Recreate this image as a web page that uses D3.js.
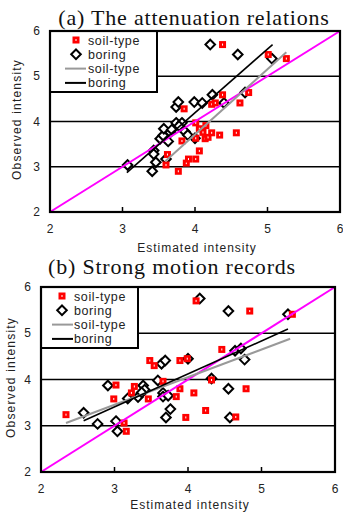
<!DOCTYPE html>
<html>
<head>
<meta charset="utf-8">
<script src="https://cdn.jsdelivr.net/npm/d3@7"></script>
<style>
body { margin: 0; background: #fff; }
svg text { font-family: "Liberation Sans", Arial, sans-serif; fill: #222; }
text.title { font-family: "Liberation Serif", "Times New Roman", serif; fill: #111; }
</style>
</head>
<body>
<svg class="main" width="343" height="512"></svg>
<script>
// ---- data ----
var xTicks = [2, 3, 4, 5, 6];
var yTicks = [2, 3, 4, 5, 6];
var gridVals = [3, 4, 5];
var legendLabels = ["soil-type", "boring", "soil-type", "boring"];
var titles = ["(a) The attenuation relations", "(b) Strong motion records"];

// (a) attenuation relations
var aSoil = [[3.60,3.04],[3.62,3.27],[3.77,2.90],[3.88,3.08],[3.91,3.17],[4.01,3.17],[4.06,3.35],
  [3.82,3.57],[4.01,3.63],[4.14,3.62],[4.18,3.65],[4.06,3.84],[4.11,3.76],[4.23,3.75],[4.34,3.70],
  [4.57,3.75],[4.01,3.97],[4.15,3.91],[3.85,4.28],[4.23,4.38],[4.28,4.41],[4.38,4.59],[4.62,4.41],
  [4.74,4.64],[4.38,5.70],[5.01,5.48],[5.26,5.39]];
var aBoring = [[3.07,3.04],[3.41,2.90],[3.43,3.36],[3.43,3.28],[3.46,3.10],[3.60,3.17],[3.52,3.62],
  [3.56,3.69],[3.63,3.56],[3.57,3.84],[3.66,3.76],[3.68,3.82],[3.74,3.97],[3.82,3.97],[3.78,3.90],
  [3.86,3.78],[3.90,3.70],[4.00,3.63],[3.74,4.32],[3.77,4.43],[3.99,4.43],[4.10,4.41],[4.24,4.59],
  [4.40,4.41],[4.69,4.64],[4.21,5.70],[4.59,5.48],[5.06,5.39]];
var aSoilFit = [[3.59,3.12],[5.26,5.53]];
var aBoringFit = [[3.06,2.87],[5.07,5.70]];

// (b) strong motion records
var bSoil = [[2.34,3.24],[3.02,3.88],[3.27,3.85],[3.23,3.71],[2.99,3.58],[3.13,3.06],[3.16,2.88],
  [3.46,3.58],[3.66,3.96],[3.84,3.63],[3.89,3.80],[3.97,3.18],[3.48,4.41],[3.54,4.30],[3.89,4.41],
  [3.99,4.45],[4.11,5.70],[4.84,5.48],[5.42,5.41],[4.46,4.65],[4.08,3.71],[4.79,3.80],[4.24,3.33],
  [4.65,3.19],[4.32,3.99]];
var bBoring = [[2.91,3.87],[2.58,3.28],[2.77,3.04],[3.02,3.10],[3.04,2.88],[3.18,3.59],[3.32,3.62],
  [3.39,3.87],[3.41,3.78],[3.37,3.72],[3.59,3.98],[3.66,3.71],[3.66,3.63],[3.73,3.65],[3.76,3.36],
  [3.70,3.18],[3.64,4.34],[3.69,4.41],[4.00,4.45],[4.16,5.75],[4.55,5.48],[5.36,5.41],[4.64,4.62],
  [4.72,4.67],[4.77,4.43],[4.32,4.02],[4.55,3.80],[4.57,3.18]];
var bSoilFit = [[2.34,3.06],[5.39,4.88]];
var bBoringFit = [[2.58,3.11],[5.36,5.09]];

// ---- layout ----
var panels = [
  { left: 50, right: 340, top: 31, bottom: 212, title: titles[0], tx: 194, ty: 25,
    soil: aSoil, boring: aBoring, soilFit: aSoilFit, boringFit: aBoringFit,
    lw: 107, lsym: 26, lx0: 15, lx1: 36, ltx: 38, ylx: 21, ytx: 40, xly: 40 },
  { left: 41, right: 335, top: 287, bottom: 472, title: titles[1], tx: 172, ty: 274,
    soil: bSoil, boring: bBoring, soilFit: bSoilFit, boringFit: bBoringFit,
    lw: 97, lsym: 21, lx0: 11, lx1: 32, ltx: 33, ylx: 15, ytx: 31, xly: 37 }
];

var svg = d3.select("svg.main");

function drawSoil(g, x, y) {
  g.append("rect").attr("x", x - 3.5).attr("y", y - 3.5)
    .attr("width", 7).attr("height", 7).attr("fill", "#ff0000");
  g.append("rect").attr("x", x - 0.5).attr("y", y - 1)
    .attr("width", 1).attr("height", 2).attr("fill", "#fff");
}

function drawDiamond(g, x, y) {
  var r = 4.8;
  g.append("path")
    .attr("d", "M" + x + "," + (y - r) + "L" + (x + r) + "," + y + "L" + x + "," + (y + r) + "L" + (x - r) + "," + y + "Z")
    .attr("fill", "#fff").attr("stroke", "#000").attr("stroke-width", 2);
}

function drawPanel(p) {
  var x = d3.scaleLinear().domain([2, 6]).range([p.left, p.right]);
  var y = d3.scaleLinear().domain([2, 6]).range([p.bottom, p.top]);
  var g = svg.append("g");

  g.append("text").attr("class", "title")
    .attr("x", p.tx).attr("y", p.ty)
    .attr("text-anchor", "middle").attr("font-size", 22)
    .attr("letter-spacing", 0.8)
    .text(p.title);

  // grid lines
  g.selectAll("line.grid").data(gridVals).enter().append("line")
    .attr("class", "grid")
    .attr("x1", p.left).attr("x2", p.right)
    .attr("y1", function (d) { return y(d); })
    .attr("y2", function (d) { return y(d); })
    .attr("stroke", "#000").attr("stroke-width", 1.6);

  // inner ticks on x
  g.selectAll("line.xt").data(xTicks.slice(1, 4)).enter().append("line")
    .attr("x1", function (d) { return x(d); })
    .attr("x2", function (d) { return x(d); })
    .attr("y1", p.bottom).attr("y2", p.bottom - 5)
    .attr("stroke", "#000").attr("stroke-width", 1.5);

  // tick labels
  g.selectAll("text.xl").data(xTicks).enter().append("text")
    .attr("x", function (d) { return x(d); })
    .attr("y", p.bottom + 21)
    .attr("text-anchor", "middle").attr("font-size", 12)
    .text(function (d) { return d; });
  g.selectAll("text.yl").data(yTicks).enter().append("text")
    .attr("x", p.ytx)
    .attr("y", function (d) { return y(d) + 4; })
    .attr("text-anchor", "end").attr("font-size", 12)
    .text(function (d) { return d; });

  g.append("text")
    .attr("x", (p.left + p.right) / 2 + 2).attr("y", p.bottom + p.xly)
    .attr("text-anchor", "middle").attr("font-size", 12)
    .attr("letter-spacing", 1)
    .text("Estimated intensity");
  g.append("text")
    .attr("transform", "translate(" + p.ylx + "," + ((p.top + p.bottom) / 2 - 2) + ") rotate(-90)")
    .attr("text-anchor", "middle").attr("font-size", 12)
    .attr("letter-spacing", 1.2)
    .text("Observed intensity");

  // points
  p.boring.forEach(function (d) { drawDiamond(g, x(d[0]), y(d[1])); });
  p.soil.forEach(function (d) { drawSoil(g, x(d[0]), y(d[1])); });

  // lines
  var line = d3.line().x(function (d) { return x(d[0]); }).y(function (d) { return y(d[1]); });
  g.append("path").attr("d", line([[2, 2], [6, 6]]))
    .attr("stroke", "#ff00ff").attr("stroke-width", 2).attr("fill", "none");
  g.append("path").attr("d", line(p.soilFit))
    .attr("stroke", "#999").attr("stroke-width", 2).attr("fill", "none");
  g.append("path").attr("d", line(p.boringFit))
    .attr("stroke", "#000").attr("stroke-width", 1.6).attr("fill", "none");

  // legend
  var lg = g.append("g").attr("transform", "translate(" + p.left + "," + p.top + ")");
  lg.append("rect").attr("x", 0).attr("y", 0).attr("width", p.lw).attr("height", 61)
    .attr("fill", "#fff").attr("stroke", "#000").attr("stroke-width", 2);
  legendLabels.forEach(function (lab, i) {
    var ly = 9 + i * 14.3;
    if (i === 0) drawSoil(lg, p.lsym, ly);
    else if (i === 1) drawDiamond(lg, p.lsym, ly);
    else lg.append("line").attr("x1", p.lx0).attr("x2", p.lx1).attr("y1", ly).attr("y2", ly)
      .attr("stroke", i === 2 ? "#999" : "#000").attr("stroke-width", 2);
    lg.append("text").attr("x", p.ltx).attr("y", ly + 4.5)
      .attr("font-size", 12.5).attr("letter-spacing", 0.6)
      .text(lab);
  });

  // frame
  g.append("rect").attr("x", p.left).attr("y", p.top)
    .attr("width", p.right - p.left).attr("height", p.bottom - p.top)
    .attr("fill", "none").attr("stroke", "#000").attr("stroke-width", 2.2);
}

panels.forEach(drawPanel);
</script>
</body>
</html>
